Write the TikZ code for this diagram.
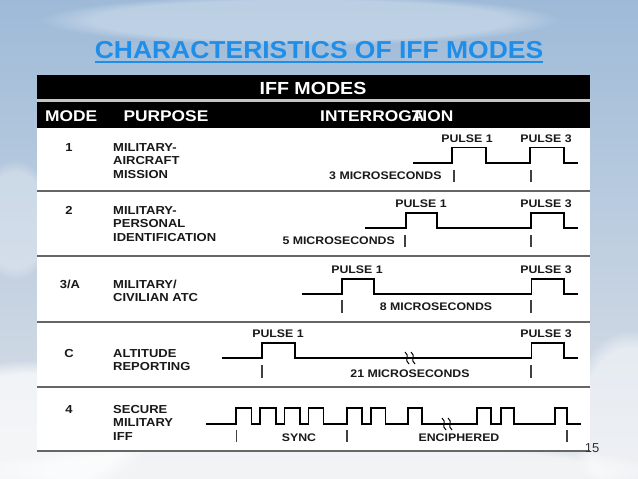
\documentclass[tikz,border=0pt]{standalone}
\usepackage{fontspec}
\usetikzlibrary{fadings}
\setmainfont{Liberation Sans}
\newfontfamily\tabfont[FakeStretch=1.12]{Liberation Sans}
\newfontfamily\ttlfont[FakeStretch=1.08]{Liberation Sans}
\definecolor{ttlblue}{RGB}{30,142,232}
\definecolor{skytop}{RGB}{158,186,216}
\definecolor{skymid}{RGB}{160,180,206}
\definecolor{skylow}{RGB}{222,226,232}
\begin{document}
\begin{tikzpicture}[x=1pt,y=-1pt,
    hdr/.style={inner sep=0pt,text=white,font=\tabfont\bfseries\fontsize{15.5}{18}\selectfont},
    txt/.style={inner sep=0pt,align=left,text=black!90,font=\tabfont\bfseries\fontsize{11.6}{13.5}\selectfont},
    lbl/.style={inner sep=0pt,text=black!90,font=\tabfont\bfseries\fontsize{11}{13}\selectfont},
    wave/.style={line width=1.8pt,line join=miter},
    tickmark/.style={line width=1.1pt,black!75},
    rowline/.style={line width=1.4pt,black!60},
    brk/.style={line width=1pt},
    cloud/.style={white,path fading=circle with fuzzy edge 20 percent}]
  \useasboundingbox (0,0) rectangle (638,479);
  % sky
  \shade[top color=skytop,middle color=skymid,bottom color=skylow] (0,0) rectangle (638,479);
  \fill[cloud,opacity=0.7] (30,430) ellipse (120 and 70);
  \fill[cloud,opacity=0.6] (320,470) ellipse (340 and 30);
  \fill[cloud,opacity=0.5] (630,420) ellipse (60 and 90);
  \fill[cloud,opacity=0.3] (15,220) ellipse (40 and 60);
  \fill[cloud,opacity=0.3] (300,20) ellipse (260 and 25);

  % title
  \node[anchor=base,inner sep=0pt,text=ttlblue,font=\ttlfont\bfseries\fontsize{24.5}{28}\selectfont]
    (ttl) at (319,58.3) {CHARACTERISTICS OF IFF MODES};
  \draw[ttlblue,line width=1.5pt] ([yshift=-3.6pt]ttl.base west) -- ([yshift=-3.6pt]ttl.base east);

  % table
  \fill[white] (37,75) rectangle (590,451);
  \fill[black] (37,75) rectangle (590,99);
  \fill[gray!45] (37,99) rectangle (590,102);
  \fill[black] (37,102) rectangle (590,127.5);
  \draw
    (313,94) node[hdr,anchor=base,font=\tabfont\bfseries\fontsize{17.5}{20}\selectfont] (iff){IFF MODES}
    (45,121.7) node[hdr,anchor=base west] (hmode){MODE}
    (123.3,121.7) node[hdr,anchor=base west] (hpurp){PURPOSE}
    (320,121.7) node[hdr,anchor=base west] (hint){INTERROG\rlap{A}TION};
  \begin{scope}[rowline]
    \draw (37,191) -- (590,191);
    \draw (37,256) -- (590,256);
    \draw (37,322) -- (590,322);
    \draw (37,387) -- (590,387);
    \draw (37,451) -- (590,451);
  \end{scope}

  % mode and purpose
  \draw
    (69,143) node[txt,anchor=north] (m1){1}
    (69,206) node[txt,anchor=north] (m2){2}
    (70,279.4) node[txt,anchor=north] (m3){3/A}
    (69,349.2) node[txt,anchor=north] (mc){C}
    (69,405) node[txt,anchor=north] (m4){4};
  \draw
    (113,143) node[txt,anchor=north west] (p1){MILITARY-\\AIRCRAFT\\MISSION}
    (113,206) node[txt,anchor=north west] (p2){MILITARY-\\PERSONAL\\IDENTIFICATION}
    (113,279.4) node[txt,anchor=north west] (p3){MILITARY/\\CIVILIAN ATC}
    (113,349.2) node[txt,anchor=north west] (pc){ALTITUDE\\REPORTING}
    (113,405) node[txt,anchor=north west] (p4){SECURE\\MILITARY\\IFF};

  % pulse labels
  \draw
    (467,142.7) node[lbl,anchor=base] (a1){PULSE 1}
    (546,142.7) node[lbl,anchor=base] (b1){PULSE 3}
    (421,207.9) node[lbl,anchor=base] (a2){PULSE 1}
    (546,207.9) node[lbl,anchor=base] (b2){PULSE 3}
    (357,273.9) node[lbl,anchor=base] (a3){PULSE 1}
    (546,273.9) node[lbl,anchor=base] (b3){PULSE 3}
    (278,337.9) node[lbl,anchor=base] (ac){PULSE 1}
    (546,337.9) node[lbl,anchor=base] (bc){PULSE 3};
  \draw
    (441.7,179.7) node[lbl,anchor=base east] (us1){3 MICROSECONDS}
    (395,244.6) node[lbl,anchor=base east] (us2){5 MICROSECONDS}
    (436,310.7) node[lbl,anchor=base] (us3){8 MICROSECONDS}
    (410,377.9) node[lbl,anchor=base] (usc){21 MICROSECONDS}
    (299,441) node[lbl,anchor=base] (sync){SYNC}
    (459,441) node[lbl,anchor=base] (enc){ENCIPHERED};

  % waveforms
  \draw[wave] (413,163) -- (452,163) -- (452,147.5) -- (486,147.5) -- (486,163)
    -- (530,163) -- (530,147.5) -- (564,147.5) -- (564,163) -- (578,163);
  \draw[wave] (365,228.3) -- (406,228.3) -- (406,212.7) -- (437,212.7) -- (437,228.3)
    -- (531,228.3) -- (531,212.7) -- (564,212.7) -- (564,228.3) -- (578,228.3);
  \draw[wave] (302,294.3) -- (342,294.3) -- (342,279) -- (374,279) -- (374,294.3)
    -- (531.5,294.3) -- (531.5,279) -- (564,279) -- (564,294.3) -- (578,294.3);
  \draw[wave] (222,358.3) -- (262,358.3) -- (262,343.3) -- (295,343.3) -- (295,358.3)
    -- (531.5,358.3) -- (531.5,343.3) -- (564,343.3) -- (564,358.3) -- (578,358.3);
  \draw[wave] (206,424.3) -- (236,424.3) -- (236,408.3) -- (251.5,408.3) -- (251.5,424.3)
    -- (260,424.3) -- (260,408.3) -- (276,408.3) -- (276,424.3)
    -- (284.5,424.3) -- (284.5,408.3) -- (300,408.3) -- (300,424.3)
    -- (308.5,424.3) -- (308.5,408.3) -- (323.5,408.3) -- (323.5,424.3)
    -- (347,424.3) -- (347,408.3) -- (362,408.3) -- (362,424.3)
    -- (371,424.3) -- (371,408.3) -- (385.5,408.3) -- (385.5,424.3)
    -- (408,424.3) -- (408,408.3) -- (422,408.3) -- (422,424.3)
    -- (477,424.3) -- (477,408.3) -- (491,408.3) -- (491,424.3)
    -- (501,424.3) -- (501,408.3) -- (514,408.3) -- (514,424.3)
    -- (555,424.3) -- (555,408.3) -- (567,408.3) -- (567,424.3) -- (581,424.3);

  % breaks
  \begin{scope}[brk]
    \draw (405,352) .. controls (410,355) and (404,361) .. (409,364);
    \draw (411,352) .. controls (416,355) and (410,361) .. (415,364);
    \draw (442,418) .. controls (447,421) and (441,427) .. (446,430);
    \draw (448,418) .. controls (453,421) and (447,427) .. (452,430);
  \end{scope}

  % ticks
  \begin{scope}[tickmark]
    \draw (454,170) -- (454,182);
    \draw (531,170) -- (531,182);
    \draw (405,235) -- (405,247);
    \draw (531,235) -- (531,247);
    \draw (342,300) -- (342,313);
    \draw (531,300) -- (531,313);
    \draw (262,365) -- (262,378);
    \draw (531,365) -- (531,378);
    \draw (236.5,430) -- (236.5,442);
    \draw (347,430) -- (347,442);
    \draw (567,430) -- (567,442);
  \end{scope}

  \node[anchor=base east,inner sep=0pt,text=black!80,font=\fontsize{13}{14}\selectfont] (pg) at (599.5,452) {15};
\end{tikzpicture}
\end{document}
